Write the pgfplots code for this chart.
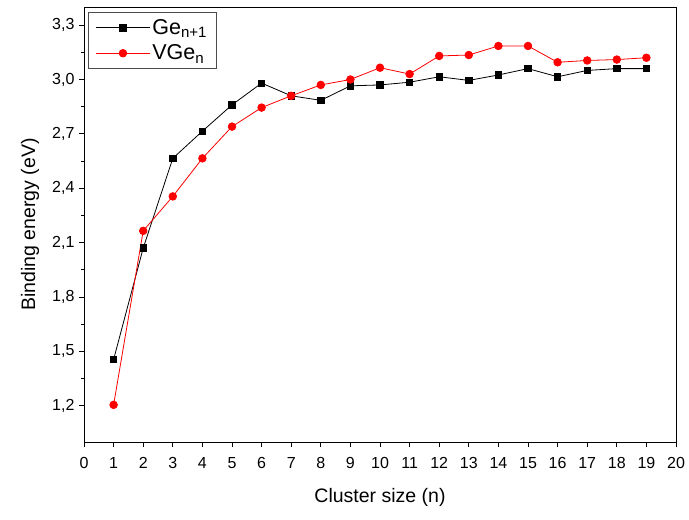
\documentclass[border=0pt]{standalone}
\usepackage{pgfplots}
\pgfplotsset{compat=1.18}
\usepackage{fontspec}
\setmainfont{Liberation Sans}
\begin{document}
\begin{tikzpicture}
\begin{axis}[
  scale only axis,
  width=592pt, height=435pt,
  xmin=0, xmax=20, ymin=1.0, ymax=3.4,
  xtick={0,1,...,20},
  ytick={1.2,1.5,1.8,2.1,2.4,2.7,3.0,3.3},
  minor y tick num=1,
  tick align=outside,
  tick pos=left,
  major tick length=5pt,
  minor tick length=3pt,
  axis line style={line width=0.9pt},
  every tick/.style={line width=0.9pt, black},
  /pgf/number format/assume math mode=true,
  ticklabel style={font=\fontsize{16}{19}\selectfont},
  xticklabel style={yshift=-7pt},
  yticklabel style={xshift=-1pt, /pgf/number format/.cd, use comma, fixed, fixed zerofill, precision=1},
  xlabel={Cluster size (n)},
  ylabel={Binding energy (eV)},
  label style={font=\fontsize{19.5}{23}\selectfont},
  xlabel style={at={(axis description cs:0.5,-0.1264)}, anchor=center},
  ylabel style={at={(axis description cs:-0.0912,0.5)}, anchor=center},
  legend style={at={(axis cs:0.14,3.372)}, anchor=north west, draw=black!70, line width=0.8pt,
    font=\fontsize{21.5}{25}\selectfont,
    inner xsep=7pt, inner ysep=5pt, row sep=5pt, cells={anchor=west}},
  legend cell align=left,
  legend image code/.code={\draw[mark repeat=2,mark phase=2] plot coordinates {(0pt,0pt) (27pt,0pt) (54pt,0pt)};},
]
\addplot[black, line width=0.8pt, mark=square*, mark size=3.2pt, mark options={solid, fill=black}] coordinates {
(1,1.455) (2,2.07) (3,2.565) (4,2.715) (5,2.86) (6,2.98) (7,2.91) (8,2.885) (9,2.965) (10,2.97) (11,2.985) (12,3.015) (13,2.995) (14,3.025) (15,3.06) (16,3.015) (17,3.05) (18,3.06) (19,3.06)
};
\addlegendentry{Ge\textsubscript{n+1}}
\addplot[red, line width=0.8pt, mark=*, mark size=3.8pt, mark options={solid, fill=red, draw=red}] coordinates {
(1,1.205) (2,2.165) (3,2.355) (4,2.565) (5,2.74) (6,2.845) (7,2.91) (8,2.97) (9,3.0) (10,3.065) (11,3.03) (12,3.13) (13,3.135) (14,3.185) (15,3.185) (16,3.095) (17,3.105) (18,3.11) (19,3.12)
};
\addlegendentry{VGe\textsubscript{n}}
\end{axis}
\pgfresetboundingbox
\path ([shift={(-84pt,-77pt)}]current axis.south west) rectangle ([shift={(13pt,7pt)}]current axis.north east);
\end{tikzpicture}
\end{document}
